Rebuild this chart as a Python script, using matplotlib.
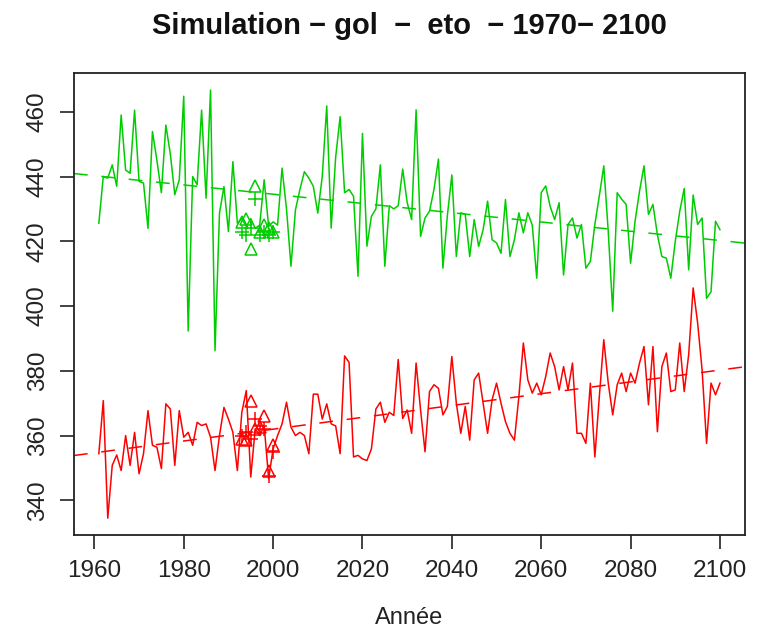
import numpy as np
import matplotlib
matplotlib.use("Agg")
import matplotlib.pyplot as plt

plt.rcParams['font.family'] = ['Liberation Sans', 'DejaVu Sans']

years = np.arange(1961, 2101)

# simulated green series (gol)
gol = [425.6, 440, 439.5, 443.6, 437, 459, 442, 441, 460.5, 438.5,
       438, 424, 453.9, 445, 435, 455.9, 447, 434.4, 439, 464.8,
       392.3, 440, 437.5, 460.5, 433.3, 466.7, 386.2, 428.7, 436.9, 423,
       444.6, 425.6, 427, 424.6, 427, 424, 425, 439, 424.6, 426,
       425, 442.6, 430, 412.3, 429.7, 436, 441.5, 439.5, 437, 428.7,
       440, 461.8, 424.1, 446, 458.5, 435, 436, 433.9, 409.2, 453.3,
       418.5, 427.7, 430, 443.6, 412.3, 431, 430, 431, 442.3, 432,
       426.7, 460.6, 421.5, 427.2, 429.3, 436, 445.4, 411.7, 428, 440.5,
       415.3, 428.8, 428.3, 415.3, 426.7, 418.4, 423.6, 432.4, 420.5, 419.5,
       416.3, 432.9, 415.3, 420.5, 428.8, 422.6, 428.8, 425, 408.6, 435,
       437.1, 430.8, 426.7, 431.9, 409.6, 425.2, 427.2, 421, 425.2, 411.7,
       413.8, 425.2, 434, 443.3, 423, 398.4, 435, 433, 431.4, 413.2,
       426.2, 435.5, 443.3, 428.3, 431.4, 422, 415.3, 414.8, 408.6, 420,
       429.3, 436.3, 411.2, 434.3, 425.2, 427.2, 402.4, 404.4, 426.2, 423.6]

# simulated red series (eto)
eto = [354.4, 370.8, 334.5, 350.8, 354, 349.2, 360, 350.8, 361, 348.2,
       354.4, 367.7, 357, 356.4, 349.8, 369.8, 368.2, 350.8, 367.7, 359.5,
       361, 357, 364.1, 363.1, 363.6, 359.5, 349.2, 360, 368.7, 365.1,
       361, 349.2, 367.2, 373.9, 347.2, 362.1, 360, 363.1, 346.7, 355.9,
       360, 363.6, 370.3, 362.6, 360, 361, 360, 354.4, 372.8, 372.8,
       365.1, 369.8, 363.6, 363, 354.4, 384.6, 382.6, 353.4, 353.9, 352.8,
       352.3, 355.9, 368.2, 370.3, 364.1, 367.2, 366.2, 383.5, 365.3, 367.9,
       360.7, 382.4, 367.9, 355, 373.6, 375.7, 374.6, 366.4, 369, 384.4,
       370, 360.7, 369, 358.6, 377.2, 379.3, 370, 360.7, 371, 376.2,
       370, 364.3, 360.7, 358.6, 372, 388.6, 377.2, 373.1, 376.2, 372.6,
       378.2, 385.5, 381.3, 374.1, 381.3, 374.1, 382.4, 360.7, 360.7, 357.6,
       376.2, 353.4, 372, 389.6, 376.2, 366.4, 375.7, 379.3, 373.6, 379.3,
       376.2, 382.4, 387.5, 369.5, 387.5, 361.2, 381.3, 385.5, 373.6, 374.1,
       388.6, 373.6, 385, 405.6, 394.8, 380.3, 357.6, 376.2, 372.6, 376.2]

# observations
obs_years = np.arange(1993, 2001)
gol_tri = [426, 427, 417.5, 437, 423, 425, 424, 423]
gol_plus = [423, 422, 424, 433, 422, 423, 422, 423]
eto_tri = [359, 358.5, 370.8, 362, 362.6, 366.2, 349.2, 357]
eto_plus = [360, 361, 359, 365, 363, 362, 347.5, 355]

green = '#00CD00'
red = '#FF0000'

fig = plt.figure(figsize=(7.58, 6.29), dpi=100)
ax = fig.add_axes([0.0976, 0.149, 0.885, 0.735])

for vals, col, tri, plus in [(gol, green, gol_tri, gol_plus), (eto, red, eto_tri, eto_plus)]:
    ax.plot(years, vals, color=col, lw=1.1)
    b, a = np.polyfit(years, vals, 1)
    ax.axline((years[0], a + b * years[0]), slope=b, color=col, lw=1.1, ls=(0, (9, 9)))
    ax.plot(obs_years, tri, ls='none', marker='^', mfc='none', mec=col, ms=8, mew=1.1)
    ax.plot(obs_years, plus, ls='none', marker='+', color=col, ms=10, mew=1.1)

allv = np.concatenate([gol, eto])
dx = 0.04 * (years[-1] - years[0])
dy = 0.04 * (allv.max() - allv.min())
ax.set_xlim(years[0] - dx, years[-1] + dx)
ax.set_ylim(allv.min() - dy, allv.max() + dy)

ax.set_xticks(np.arange(1960, 2101, 20))
ax.set_yticks(np.arange(340, 461, 20))
ax.tick_params(direction='out', length=10, width=1.2, labelsize=17.5, pad=8, colors='#222222')
plt.setp(ax.get_yticklabels(), rotation=90, va='center')
for s in ax.spines.values():
    s.set_linewidth(1.3)
    s.set_color('#222222')

ax.set_xlabel('Année', fontsize=17, labelpad=18, color='#222222')
ax.set_title('Simulation \u2212 gol  \u2212  eto  \u2212 1970\u2212 2100',
             fontsize=21, fontweight='bold', pad=28, color='#111111')

fig.savefig('out.png', dpi=100)
